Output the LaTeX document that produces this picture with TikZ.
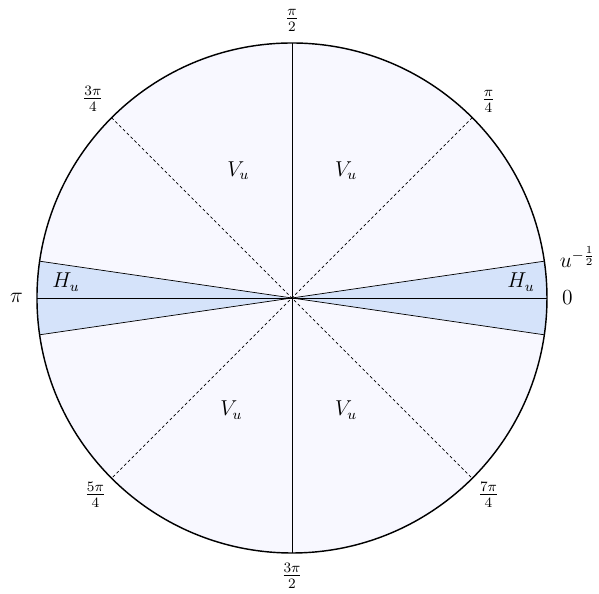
\documentclass[tikz,border=0pt]{standalone}
\usepackage{amsmath}
\usetikzlibrary{calc}
\definecolor{discfill}{RGB}{248,248,255}
\definecolor{wedgefill}{RGB}{213,227,250}
\tikzset{
  rim/.style={thick},
  axisline/.style={thin},
  diagline/.style={thin, dash pattern=on 1.6pt off 1.4pt},
  wedgeline/.style={thin},
  anglelabel/.style={inner sep=1pt, font=\large},
  regionlabel/.style={inner sep=1pt, font=\large}
}

\begin{document}
\begin{tikzpicture}
  \useasboundingbox (-5.725,-5.804) rectangle (6.02,5.843);
  \coordinate (O) at (0,0);
  % disc and the two thin sectors around the real axis
  \fill[discfill] (O) circle (5);
  \fill[wedgefill] (O) -- (8.3:5) arc (8.3:-8.3:5) -- cycle;
  \fill[wedgefill] (O) -- (171.7:5) arc (171.7:188.3:5) -- cycle;

  \coordinate (e0) at (0:5);
  \coordinate (e90) at (90:5);
  \coordinate (e180) at (180:5);
  \coordinate (e270) at (270:5);
  \coordinate (e45) at (45:5);
  \coordinate (e135) at (135:5);
  \coordinate (e225) at (225:5);
  \coordinate (e315) at (315:5);
  \coordinate (wa) at (8.3:5);
  \coordinate (wb) at (-8.3:5);
  \coordinate (wc) at (171.7:5);
  \coordinate (wd) at (188.3:5);

  \draw[diagline] (e45) -- (e225);
  \draw[diagline] (e135) -- (e315);
  \draw[axisline] (e90) -- (e270);
  \draw[axisline] (e180) -- (e0);
  \draw[wedgeline] (wa) -- (wd);
  \draw[wedgeline] (wb) -- (wc);
  \draw[rim] (O) circle (5);

  % angle labels
  \node[anglelabel] (l0) at (0:5.4) {$0$};
  \node[anglelabel] (l45) at (45:5.45) {$\frac{\pi}{4}$};
  \node[anglelabel] (l90) at (90:5.45) {$\frac{\pi}{2}$};
  \node[anglelabel] (l135) at (135:5.52) {$\frac{3\pi}{4}$};
  \node[anglelabel] (l180) at (180:5.4) {$\pi$};
  \node[anglelabel] (l225) at (225:5.45) {$\frac{5\pi}{4}$};
  \node[anglelabel] (l270) at (270:5.45) {$\frac{3\pi}{2}$};
  \node[anglelabel] (l315) at (315:5.45) {$\frac{7\pi}{4}$};
  \node[anglelabel] (lu) at (5.6,0.8) {$u^{-\frac{1}{2}}$};

  % regions
  \node[regionlabel] (v1) at (-1.05,2.49) {$V_u$};
  \node[regionlabel] (v2) at (1.06,2.49) {$V_u$};
  \node[regionlabel] (v3) at (-1.19,-2.2) {$V_u$};
  \node[regionlabel] (v4) at (1.06,-2.2) {$V_u$};
  \node[regionlabel] (h1) at (-4.43,0.31) {$H_u$};
  \node[regionlabel] (h2) at (4.49,0.31) {$H_u$};
\end{tikzpicture}
\end{document}
